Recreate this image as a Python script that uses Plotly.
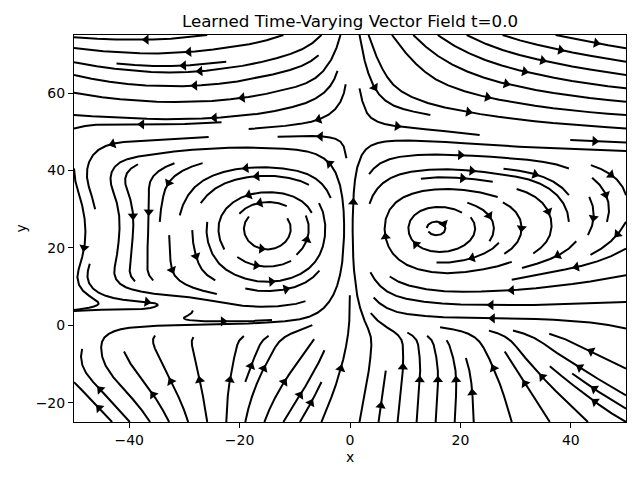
import numpy as np
import plotly.graph_objects as go

# Estimated vector field (direction matters most).
X_NODES = [-50, -40, -30, -20, -10, 0, 10, 20, 30, 40, 50]
Y_NODES = [-25, -15, -5, 0, 3.5, 7, 15, 25, 35, 45, 55, 65, 75]

# horizontal component, one row per entry of Y_NODES (bottom to top)
U_ROWS = [
    [-0.7, -0.6, -0.25, 0.1, 0.45, 0.15, 0.05, 0.05, -0.2, -0.6, -1.0],    # y=-25
    [-0.7, -0.65, -0.3, 0.2, 0.5, 0.15, 0.08, 0.0, -0.35, -0.9, -1.0],     # y=-15
    [0.4, -0.3, -0.2, 0.2, 0.55, 0.1, -0.05, -0.3, -0.55, -1.0, -1.0],     # y=-5
    [1.0, 1.0, 1.0, 1.0, 1.0, 0.05, -1.0, -1.0, -1.0, -1.0, -1.0],         # y=0
    [-1.0, -1.0, -0.9, 1.0, 1.0, 0.0, -1.0, -1.0, -1.0, -1.0, -1.0],       # y=3.5
    [0.6, 1.0, 1.0, 1.0, 1.0, 0.0, -1.0, -1.0, -1.0, -1.0, -1.0],          # y=7
    [-0.3, -0.1, 0.15, 0.7, 0.7, 0.0, -0.7, -1.0, -1.0, -1.0, -1.0],       # y=15
    [0.05, -0.05, 0.0, 0.0, 0.0, 0.0, 0.0, 0.0, 0.0, -0.1, -0.5],          # y=25
    [0.25, 0.3, -0.5, -0.8, -0.8, 0.0, 0.8, 1.0, 1.0, 0.6, 0.3],           # y=35
    [-0.2, -1.0, -1.0, -1.0, -1.0, 0.0, 1.0, 1.0, 1.0, 1.0, 1.0],          # y=45
    [-1.0, -1.0, -1.0, -1.0, -1.0, -0.15, 1.0, 1.0, 1.0, 1.0, 1.0],        # y=55
    [-1.0, -1.0, -1.0, -1.0, -1.0, 0.05, 0.6, 1.0, 1.0, 1.0, 1.0],         # y=65
    [-1.0, -1.0, -1.0, -1.0, -1.0, 0.0, 0.6, 1.0, 1.0, 1.0, 1.0],          # y=75
]
# vertical component
V_ROWS = [
    [1.0, 1.0, 1.0, 1.0, 1.0, 1.0, 1.0, 1.0, 1.0, 1.0, 0.8],               # y=-25
    [1.0, 1.0, 1.0, 1.0, 1.0, 1.0, 1.0, 1.0, 1.0, 1.0, 0.75],              # y=-15
    [1.0, 1.0, 1.0, 1.0, 1.0, 1.0, 1.0, 1.0, 1.0, 0.7, 0.6],               # y=-5
    [0.2, 0.03, 0.03, 0.05, 0.15, 1.0, 0.15, 0.03, 0.03, 0.15, 0.3],       # y=0
    [0.15, 0.03, -0.25, -0.05, 0.15, 1.0, 0.2, 0.02, 0.0, 0.0, 0.05],      # y=3.5
    [-0.7, 0.0, -0.05, -0.35, 0.35, 1.0, 0.3, 0.05, 0.0, -0.1, -0.1],      # y=7
    [-1.0, -1.0, -1.0, -0.5, 0.5, 1.0, 0.5, -0.2, -0.4, -0.3, -0.35],      # y=15
    [-1.0, -1.0, -1.0, -0.6, 0.6, 1.0, 0.6, -0.5, -1.0, -1.0, -1.0],       # y=25
    [-1.0, -1.0, -1.0, -0.4, 0.36, 1.0, 0.4, -0.15, -0.35, -1.0, -1.0],    # y=35
    [-1.0, -0.1, -0.15, 0.0, 0.15, 0.6, 0.1, -0.08, -0.05, -0.05, -0.05],  # y=45
    [0.2, 0.1, 0.0, -0.15, -0.35, -0.6, -0.3, -0.25, -0.2, -0.15, -0.1],   # y=55
    [0.35, 0.15, -0.05, -0.25, -0.4, -1.0, -1.0, -0.6, -0.35, -0.25, -0.2],  # y=65
    [0.1, 0.0, -0.15, -0.2, -0.6, -1.0, -1.0, -0.8, -0.4, -0.3, -0.25],    # y=75
]

X_RANGE = [-50, 50]
Y_RANGE = [-25, 75]
X_TICKS = [-40, -20, 0, 20, 40]
Y_TICKS = [-20, 0, 20, 40, 60]
TITLE = "Learned Time-Varying Vector Field t=0.0"

# plot area in pixels (the page adds an 8px offset, so margins are shifted by 8)
MARGIN = dict(l=66, r=22, t=27, b=66)
PLOT_W = 640 - MARGIN["l"] - MARGIN["r"]
PLOT_H = 480 - MARGIN["t"] - MARGIN["b"]


class _OutOfBounds(Exception):
    pass


class _Terminate(Exception):
    pass


class _Occupied(Exception):
    pass


def sample_field(n=41):
    xs = np.linspace(X_RANGE[0], X_RANGE[1], n)
    ys = np.linspace(Y_RANGE[0], Y_RANGE[1], n)

    def resample(rows):
        along_x = np.array([np.interp(xs, X_NODES, r) for r in rows])
        return np.array([np.interp(ys, Y_NODES, along_x[:, j]) for j in range(len(xs))]).T

    return xs, ys, resample(U_ROWS), resample(V_ROWS)


def interpgrid(a, xi, yi):
    ny, nx = a.shape
    x, y = int(xi), int(yi)
    xn = x if x == nx - 1 else x + 1
    yn = y if y == ny - 1 else y + 1
    xt, yt = xi - x, yi - y
    a0 = a[y, x] * (1 - xt) + a[y, xn] * xt
    a1 = a[yn, x] * (1 - xt) + a[yn, xn] * xt
    return a0 * (1 - yt) + a1 * yt


def gen_starting_points(nx, ny):
    xfirst, yfirst, xlast, ylast = 0, 1, nx - 1, ny - 1
    x, y = 0, 0
    direction = "right"
    for _ in range(nx * ny):
        yield x, y
        if direction == "right":
            x += 1
            if x >= xlast:
                xlast -= 1
                direction = "up"
        elif direction == "up":
            y += 1
            if y >= ylast:
                ylast -= 1
                direction = "left"
        elif direction == "left":
            x -= 1
            if x <= xfirst:
                xfirst += 1
                direction = "down"
        elif direction == "down":
            y -= 1
            if y <= yfirst:
                yfirst += 1
                direction = "right"


def compute_streamlines(xs, ys, u, v, density=1.0, minlength=0.1, maxlength=4.0):
    # same scheme as matplotlib's streamplot (30x30 mask, rk12, spiral seeding)
    ny, nx = u.shape
    dx, dy = xs[1] - xs[0], ys[1] - ys[0]
    mnx = mny = int(30 * density)
    mask = np.zeros((mny, mnx))
    gx2m = (mnx - 1) / (nx - 1)
    gy2m = (mny - 1) / (ny - 1)

    ug, vg = u / dx, v / dy
    speed = np.sqrt((ug / (nx - 1)) ** 2 + (vg / (ny - 1)) ** 2)
    state = {"cur": None, "traj": []}

    def within(xi, yi):
        return 0 <= xi <= nx - 1 and 0 <= yi <= ny - 1

    def to_mask(xi, yi):
        return int(round(xi * gx2m)), int(round(yi * gy2m))

    def mark(xi, yi):
        xm, ym = to_mask(xi, yi)
        if state["cur"] != (xm, ym):
            if mask[ym, xm] == 0:
                state["traj"].append((ym, xm))
                mask[ym, xm] = 1
                state["cur"] = (xm, ym)
            else:
                raise _Occupied

    def forward(xi, yi):
        if not within(xi, yi):
            raise _OutOfBounds
        s = interpgrid(speed, xi, yi)
        if s == 0:
            raise _Terminate
        return interpgrid(ug, xi, yi) / s, interpgrid(vg, xi, yi) / s

    def backward(xi, yi):
        a, b = forward(xi, yi)
        return -a, -b

    maxds = min(1.0 / mnx, 1.0 / mny, 0.1)
    maxerror = 0.003

    def euler_to_edge(traj, f):
        xi, yi = traj[-1]
        cx, cy = f(xi, yi)
        if cx == 0:
            dsx = np.inf
        elif cx < 0:
            dsx = xi / -cx
        else:
            dsx = (nx - 1 - xi) / cx
        if cy == 0:
            dsy = np.inf
        elif cy < 0:
            dsy = yi / -cy
        else:
            dsy = (ny - 1 - yi) / cy
        ds = min(dsx, dsy)
        traj.append((xi + cx * ds, yi + cy * ds))
        return ds

    def rk12(x0, y0, f):
        ds = maxds
        stotal = 0.0
        xi, yi = x0, y0
        traj = []
        while True:
            try:
                if within(xi, yi):
                    traj.append((xi, yi))
                else:
                    raise _OutOfBounds
                k1x, k1y = f(xi, yi)
                k2x, k2y = f(xi + ds * k1x, yi + ds * k1y)
            except _OutOfBounds:
                if traj:
                    stotal += euler_to_edge(traj, f)
                break
            except _Terminate:
                break
            dx1, dy1 = ds * k1x, ds * k1y
            dx2, dy2 = ds * 0.5 * (k1x + k2x), ds * 0.5 * (k1y + k2y)
            err = np.hypot((dx2 - dx1) / (nx - 1), (dy2 - dy1) / (ny - 1))
            if err < maxerror:
                xi += dx2
                yi += dy2
                try:
                    if not within(xi, yi):
                        raise _Occupied
                    mark(xi, yi)
                except _Occupied:
                    break
                if stotal + ds > maxlength:
                    break
                stotal += ds
            ds = maxds if err == 0 else min(maxds, 0.85 * ds * (maxerror / err) ** 0.5)
        return stotal, traj

    def integrate(x0, y0):
        state["traj"] = []
        try:
            mark(x0, y0)
        except _Occupied:
            return None
        stotal, pts = 0.0, []
        s, t = rk12(x0, y0, backward)
        stotal += s
        pts += t[::-1]
        state["cur"] = to_mask(x0, y0)
        s, t = rk12(x0, y0, forward)
        stotal += s
        pts += t[1:]
        if stotal > minlength:
            return pts
        for cell in state["traj"]:
            mask[cell] = 0
        return None

    lines = []
    for xm, ym in gen_starting_points(mnx, mny):
        if mask[ym, xm] == 0:
            t = integrate(xm / gx2m, ym / gy2m)
            if t is not None:
                g = np.array(t)
                lines.append((xs[0] + g[:, 0] * dx, ys[0] + g[:, 1] * dy))
    return lines


def arrow_marks(lines):
    sx = PLOT_W / (X_RANGE[1] - X_RANGE[0])
    sy = PLOT_H / (Y_RANGE[1] - Y_RANGE[0])
    ax, ay, ang = [], [], []
    for tx, ty in lines:
        s = np.cumsum(np.hypot(np.diff(tx), np.diff(ty)))
        n = np.searchsorted(s, s[-1] / 2.0)
        hx, hy = np.mean(tx[n:n + 2]), np.mean(ty[n:n + 2])
        px, py = (hx - tx[n]) * sx, (hy - ty[n]) * sy
        norm = np.hypot(px, py)
        if norm == 0:
            continue
        # centre the triangle a bit behind the tip
        back = 3.0
        ax.append(hx - px / norm * back / sx)
        ay.append(hy - py / norm * back / sy)
        ang.append(np.degrees(np.arctan2(px, py)))
    return ax, ay, ang


xs, ys, u, v = sample_field()
lines = compute_streamlines(xs, ys, u, v)

line_x, line_y = [], []
for tx, ty in lines:
    line_x += list(tx) + [None]
    line_y += list(ty) + [None]
arr_x, arr_y, arr_ang = arrow_marks(lines)

fig = go.Figure()
fig.add_trace(go.Scatter(
    x=line_x, y=line_y, mode="lines",
    line=dict(color="black", width=2),
    hoverinfo="skip", showlegend=False,
))
fig.add_trace(go.Scatter(
    x=arr_x, y=arr_y, mode="markers",
    marker=dict(symbol="triangle-up", size=9, angle=arr_ang, color="black", line=dict(width=0)),
    hoverinfo="skip", showlegend=False,
))

axis_style = dict(
    showgrid=False, zeroline=False, showline=True, mirror=True,
    linecolor="black", linewidth=1, ticks="outside", ticklen=5, tickwidth=1,
    tickcolor="black", tickfont=dict(family="DejaVu Sans", size=14, color="black"),
)
fig.update_layout(
    width=640, height=480,
    margin=MARGIN,
    paper_bgcolor="white", plot_bgcolor="white",
    title=dict(text=TITLE, x=0.5, xref="paper", y=1 - 13 / 480, yref="container",
               xanchor="center", yanchor="middle",
               font=dict(family="DejaVu Sans", size=16.7, color="black")),
    xaxis=dict(range=X_RANGE, tickvals=X_TICKS, **axis_style),
    yaxis=dict(range=Y_RANGE, tickvals=Y_TICKS, **axis_style),
    annotations=[
        dict(text="x", xref="paper", yref="paper", x=0.5, y=0, yshift=-35, yanchor="middle",
             showarrow=False, font=dict(family="DejaVu Sans", size=14, color="black")),
        dict(text="y", xref="paper", yref="paper", x=0, y=0.5, xshift=-54, xanchor="center",
             textangle=-90, showarrow=False,
             font=dict(family="DejaVu Sans", size=14, color="black")),
    ],
)

fig.write_html("out.html")
